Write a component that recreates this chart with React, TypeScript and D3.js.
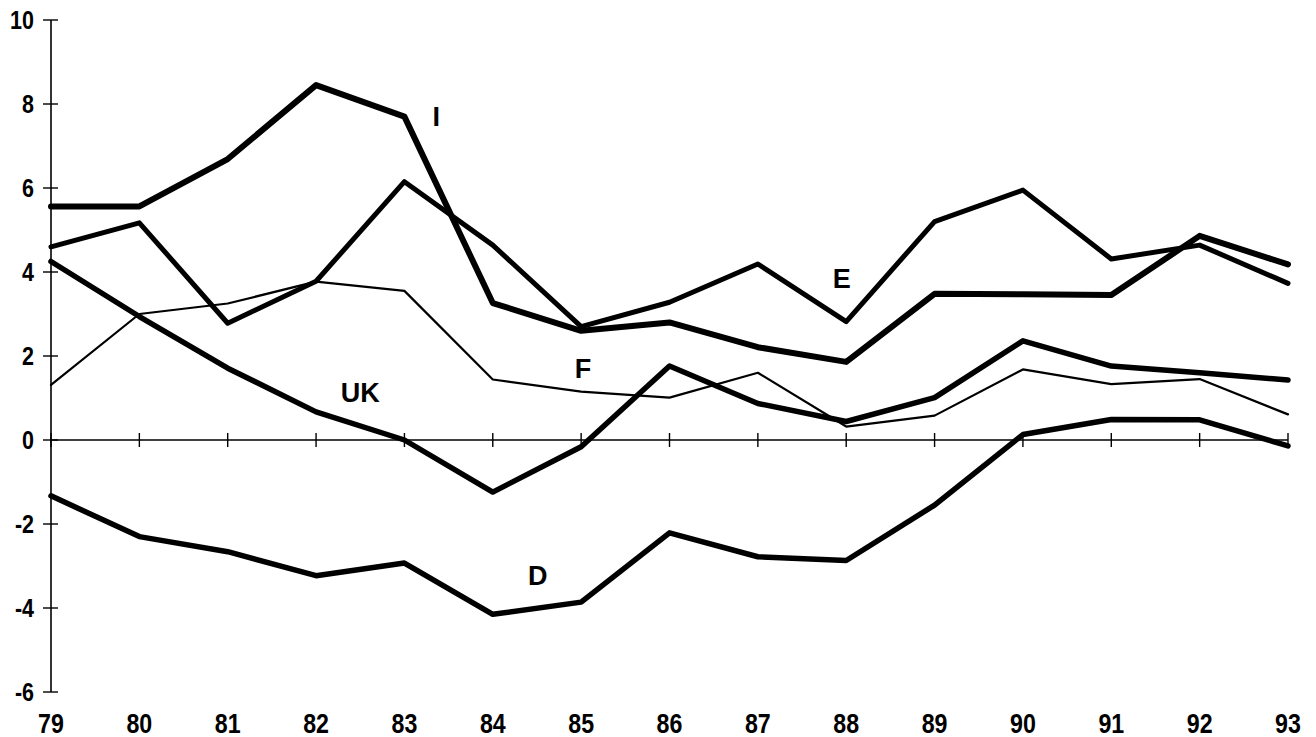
import * as d3 from "d3";

const years = [79, 80, 81, 82, 83, 84, 85, 86, 87, 88, 89, 90, 91, 92, 93];
const yTicks = [-6, -4, -2, 0, 2, 4, 6, 8, 10];

const seriesI = [5.56, 5.56, 6.69, 8.45, 7.7, 3.26, 2.6, 2.8, 2.21, 1.86, 3.48, 3.47, 3.45, 4.86, 4.18];
const seriesE = [4.6, 5.17, 2.78, 3.78, 6.15, 4.64, 2.7, 3.28, 4.19, 2.82, 5.2, 5.95, 4.31, 4.64, 3.73];
const seriesF = [1.31, 3.0, 3.25, 3.77, 3.55, 1.44, 1.15, 1.01, 1.6, 0.32, 0.58, 1.68, 1.33, 1.45, 0.61];
const seriesUK = [4.25, 2.94, 1.71, 0.67, 0.0, -1.24, -0.16, 1.76, 0.87, 0.44, 1.01, 2.36, 1.76, 1.6, 1.43];
const seriesD = [-1.33, -2.3, -2.66, -3.23, -2.93, -4.15, -3.86, -2.21, -2.78, -2.87, -1.55, 0.13, 0.49, 0.48, -0.14];

// label name, year, value where it sits
const labels: [string, number, number][] = [
  ["I", 83.36, 7.72],
  ["E", 87.95, 3.86],
  ["F", 85.02, 1.72],
  ["UK", 82.5, 1.14],
  ["D", 84.51, -3.21],
];

const lines = [
  { name: "F", values: seriesF, width: 2.2 },
  { name: "E", values: seriesE, width: 5 },
  { name: "UK", values: seriesUK, width: 5.5 },
  { name: "D", values: seriesD, width: 5.5 },
  { name: "I", values: seriesI, width: 6 },
];

export default function App() {
  const width = 1316;
  const height = 737;

  const x = d3.scaleLinear().domain([79, 93]).range([51, 1288]);
  const y = d3.scaleLinear().domain([-6, 10]).range([692, 20]);

  const line = d3
    .line<number>()
    .x((_, i) => x(years[i]))
    .y((d) => y(d));

  const font = "'Liberation Sans', Arial, sans-serif";

  return (
    <svg
      width={width}
      height={height}
      style={{ position: "absolute", left: 0, top: 0, background: "#fff" }}
    >
      {/* y axis */}
      <line x1={x(79)} x2={x(79)} y1={y(10)} y2={y(-6)} stroke="#000" strokeWidth={1.6} />
      {yTicks.map((t) => (
        <g key={t}>
          <line x1={x(79) - 8} x2={x(79) + 7} y1={y(t)} y2={y(t)} stroke="#000" strokeWidth={1.4} />
          <text
            transform={`translate(34,${y(t) + 9}) scale(0.86,1)`}
            textAnchor="end"
            fontFamily={font}
            fontWeight="bold"
            fontSize={25}
          >
            {t}
          </text>
        </g>
      ))}

      {/* zero line with year ticks */}
      <line x1={x(79)} x2={x(93)} y1={y(0)} y2={y(0)} stroke="#000" strokeWidth={1.4} />
      {years.map((yr) => (
        <g key={yr}>
          <line x1={x(yr)} x2={x(yr)} y1={y(0) - 7} y2={y(0) + 7} stroke="#000" strokeWidth={1.4} />
          <text
            transform={`translate(${x(yr)},733) scale(0.86,1)`}
            textAnchor="middle"
            fontFamily={font}
            fontWeight="bold"
            fontSize={27}
          >
            {yr}
          </text>
        </g>
      ))}

      {lines.map((s) => (
        <path
          key={s.name}
          d={line(s.values) ?? ""}
          fill="none"
          stroke="#000"
          strokeWidth={s.width}
          strokeLinejoin="round"
          strokeLinecap="round"
        />
      ))}

      {labels.map(([name, yr, v]) => (
        <text
          key={name}
          x={x(yr)}
          y={y(v) + 10}
          textAnchor="middle"
          fontFamily={font}
          fontWeight="bold"
          fontSize={27}
        >
          {name}
        </text>
      ))}
    </svg>
  );
}
